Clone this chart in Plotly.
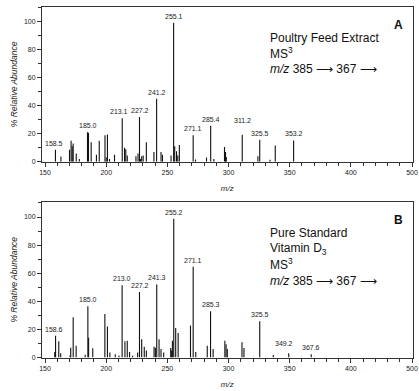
import plotly.graph_objects as go

# ---------------- data ----------------
# Panel A: Poultry Feed Extract
mz_a = [158.5, 163.0, 170.0, 171.3, 172.2, 173.0, 175.5, 178.0, 184.7, 185.5,
        187.7, 192.0, 194.3, 199.0, 200.0, 201.0, 202.7, 206.8, 213.1, 215.0,
        216.0, 217.2, 224.3, 226.0, 227.2, 228.0, 229.0, 230.2, 232.8, 239.0,
        241.2, 244.8, 246.0, 253.0, 255.1, 256.0, 257.5, 258.5, 259.8, 271.1,
        273.0, 282.0, 285.4, 288.0, 296.7, 297.5, 298.2, 311.2, 324.0, 325.5,
        333.9, 338.2, 353.2]
int_a = [8.6, 3.8, 8.6, 15.0, 11.0, 13.0, 6.0, 2.0, 21.0, 20.7,
         14.0, 5.0, 15.0, 19.0, 3.0, 19.5, 2.0, 5.0, 31.0, 10.0,
         9.0, 4.5, 4.0, 6.0, 32.0, 2.0, 4.0, 4.5, 14.0, 7.0,
         45.0, 7.0, 5.0, 4.5, 99.0, 11.0, 7.5, 4.5, 12.0, 19.0,
         1.7, 3.0, 25.7, 2.0, 10.5, 7.0, 3.5, 19.3, 4.0, 15.7,
         1.5, 11.7, 15.2]
labels_a = ["158.5", "185.0", "213.1", "227.2", "241.2", "255.1", "271.1",
            "285.4", "311.2", "325.5", "353.2"]

# Panel B: Pure Standard Vitamin D3
mz_b = [157.9, 158.6, 161.2, 162.8, 170.5, 171.0, 173.0, 175.4, 182.8, 185.0,
        185.6, 189.0, 198.9, 201.0, 203.0, 207.4, 210.4, 213.0, 215.3, 217.2,
        219.1, 221.6, 225.7, 227.2, 229.0, 231.1, 232.8, 239.1, 240.2, 241.3,
        243.2, 244.8, 247.0, 252.7, 253.5, 254.1, 255.2, 256.8, 258.8, 268.9,
        271.1, 273.2, 282.6, 285.3, 287.4, 297.0, 298.0, 299.0, 311.0, 312.6,
        325.5, 336.6, 349.2, 367.6]
int_b = [4.0, 15.5, 11.5, 3.0, 1.5, 7.0, 28.7, 8.4, 2.0, 36.4,
         14.0, 6.5, 31.0, 22.0, 3.5, 2.4, 1.5, 51.4, 11.5, 12.0,
         4.0, 1.2, 3.5, 46.7, 13.0, 7.7, 5.0, 7.7, 7.0, 52.0,
         13.0, 6.0, 3.6, 6.7, 5.0, 12.0, 98.8, 21.0, 17.5, 22.7,
         64.6, 4.0, 8.4, 33.0, 6.0, 12.0, 9.5, 6.0, 10.8, 6.7,
         25.8, 1.7, 3.0, 2.4]
labels_b = ["158.6", "185.0", "213.0", "227.2", "241.3", "255.2", "271.1",
            "285.3", "325.5", "349.2", "367.6"]

# axis ticks (the original axis is labelled 150 ... 400, 500)
x_tickvals = [150, 200, 250, 300, 350, 400, 450]
x_ticktext = ["150", "200", "250", "300", "350", "400", "500"]
y_tickvals = [0, 20, 40, 60, 80, 100]

ARROW = "\u27f6"
text_a = ["Poultry Feed Extract", "MS<sup>3</sup>",
          f"<i>m/z</i> 385 {ARROW} 367 {ARROW}"]
text_b = ["Pure Standard", "Vitamin D<sub>3</sub>", "MS<sup>3</sup>",
          f"<i>m/z</i> 385 {ARROW} 367 {ARROW}"]

# ---------------- figure ----------------
W, H = 419, 391
FONT = "Liberation Sans, Arial, sans-serif"


def px(x):
    return x / W


def py(y):
    return 1 - y / H


def stick_xy(mz, inten):
    xs, ys = [], []
    for m, v in zip(mz, inten):
        xs += [m, m, None]
        ys += [0, v, None]
    return xs, ys


fig = go.Figure()
for mz, inten, xa, ya in [(mz_a, int_a, "x", "y"), (mz_b, int_b, "x2", "y2")]:
    xs, ys = stick_xy(mz, inten)
    fig.add_trace(go.Scatter(x=xs, y=ys, mode="lines", xaxis=xa, yaxis=ya,
                             line=dict(color="#111", width=1.1),
                             hoverinfo="skip", showlegend=False))

ann = []
extra_yshift = {"311.2": 8, "349.2": 3}
extra_xshift = {"213.1": -3, "227.2": 1, "158.6": -1.5, "349.2": -5, "158.5": -1}
for mz, inten, labels, xr, yr in [(mz_a, int_a, labels_a, "x", "y"),
                                   (mz_b, int_b, labels_b, "x2", "y2")]:
    for lab in labels:
        v = float(lab)
        h = max(i for m, i in zip(mz, inten) if abs(m - v) <= 1.0)
        ann.append(dict(x=v, y=h, xref=xr, yref=yr, text=lab, showarrow=False,
                        xanchor="center", yanchor="bottom",
                        yshift=1 + extra_yshift.get(lab, 0),
                        xshift=extra_xshift.get(lab, 0),
                        font=dict(family=FONT, size=7, color="#222")))

x_left = 147.5
x_right = 450.4
axis_common = dict(showline=True, linecolor="#333", linewidth=1, mirror=True,
                   ticks="outside", ticklen=4, tickcolor="#333", tickwidth=1,
                   showgrid=False, zeroline=False, automargin=False,
                   tickfont=dict(family=FONT, size=7, color="#222"))

xdom = [px(42), px(412.5)]


def xaxis_def(anchor):
    return dict(domain=xdom, range=[x_left, x_right], anchor=anchor,
                tickvals=x_tickvals, ticktext=x_ticktext,
                minor=dict(dtick=10, tick0=150, ticks="outside", ticklen=3,
                           tickcolor="#333"),
                title=dict(text="<i>m/z</i>", font=dict(family=FONT, size=8),
                           standoff=10),
                **axis_common)


def yaxis_def(anchor, dom, top):
    return dict(domain=dom, range=[0, top], anchor=anchor,
                tickvals=y_tickvals,
                minor=dict(dtick=10, tick0=0, ticks="outside", ticklen=3,
                           tickcolor="#333"),
                title=dict(text="<i>% Relative Abundance</i>",
                           font=dict(family=FONT, size=8.5), standoff=4),
                **axis_common)


fig.update_layout(
    width=W, height=H, margin=dict(l=0, r=0, t=0, b=0, autoexpand=False),
    paper_bgcolor="white", plot_bgcolor="white",
    font=dict(family=FONT, color="#222"),
    xaxis=xaxis_def("y"),
    yaxis=yaxis_def("x", [py(161.8), py(7)], 110.3),
    xaxis2=xaxis_def("y2"),
    yaxis2=yaxis_def("x2", [py(357.5), py(202)], 110.7),
)

# panel letters and descriptions
ann.append(dict(x=px(398), y=py(25), xref="paper", yref="paper", text="<b>A</b>",
                showarrow=False, xanchor="center", yanchor="middle",
                font=dict(family=FONT, size=12, color="#111")))
ann.append(dict(x=px(398), y=py(220), xref="paper", yref="paper", text="<b>B</b>",
                showarrow=False, xanchor="center", yanchor="middle",
                font=dict(family=FONT, size=12, color="#111")))
for lines, ys in [(text_a, [38, 53, 69]), (text_b, [233, 249, 264, 281])]:
    for t, yy in zip(lines, ys):
        ann.append(dict(x=px(268), y=py(yy), xref="paper", yref="paper", text=t,
                        showarrow=False, xanchor="left", yanchor="middle",
                        font=dict(family=FONT, size=12, color="#111")))

fig.update_layout(annotations=ann)
# remove the default 8px page margin so the figure fills the window exactly
fig.write_html("out.html",
               config={"displayModeBar": False},
               post_script="document.body.style.margin='0';"
                           "document.body.style.overflow='hidden';")
